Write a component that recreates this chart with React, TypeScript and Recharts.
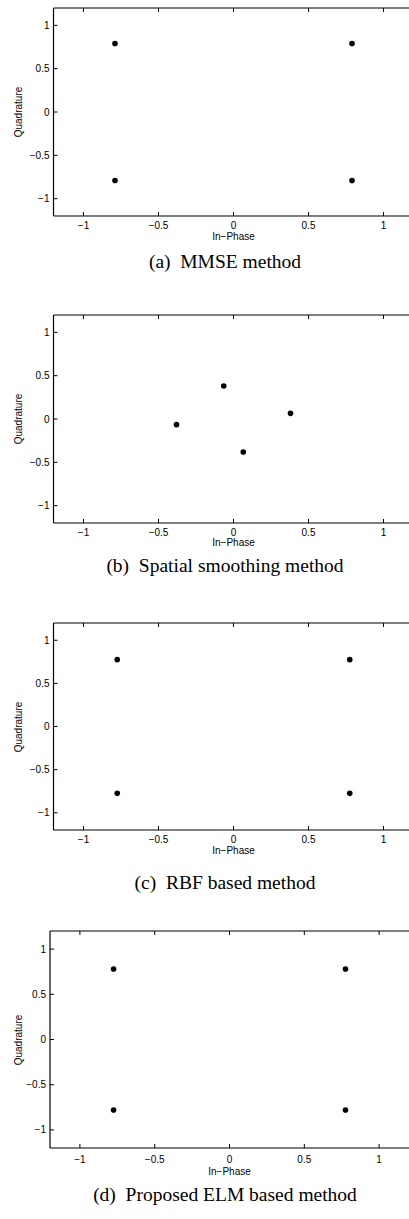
import { ScatterChart, Scatter, XAxis, YAxis } from "recharts";

// tick values shared by every panel
const axisTicks = [-1, -0.5, 0, 0.5, 1];
const yDomain = [-1.2, 1.2];

// (a) MMSE
const mmseI = [-0.79, 0.79, -0.79, 0.79];
const mmseQ = [0.79, 0.79, -0.79, -0.79];
// (b) spatial smoothing
const spatialI = [-0.38, -0.065, 0.065, 0.38];
const spatialQ = [-0.065, 0.38, -0.38, 0.065];
// (c) RBF
const rbfI = [-0.775, 0.775, -0.775, 0.775];
const rbfQ = [0.775, 0.775, -0.775, -0.775];
// (d) ELM
const elmI = [-0.775, 0.775, -0.775, 0.775];
const elmQ = [0.78, 0.78, -0.78, -0.78];

const captions = [
  "(a)  MMSE method",
  "(b)  Spatial smoothing method",
  "(c)  RBF based method",
  "(d)  Proposed ELM based method",
];

const xLabel = "In\u2212Phase";
const yLabel = "Quadrature";

const SANS = "'Liberation Sans', Arial, Helvetica, sans-serif";
const PAGE_W = 409;

const fmt = (v: number) => (v < 0 ? "\u2212" + Math.abs(v) : String(v));

interface PanelProps {
  xs: number[];
  ys: number[];
  top: number;
  left: number;
  unit: number; // px per unit on x (the figure is cropped at the page edge)
  ph: number;
  caption: string;
  captionY: number;
  tickGap: number;
  labelGap: number;
  rightTicks: boolean;
}

function Panel({ xs, ys, top, left, unit, ph, caption, captionY, tickGap, labelGap, rightTicks }: PanelProps) {
  const data = xs.map((x, i) => ({ x, y: ys[i] }));
  const pad = 5;
  const bottomH = 45;
  const pw = PAGE_W - left;
  // visible part of the [-1.2, 1.2] box
  const xDomain = [-1.2, Math.min(1.2, -1.2 + pw / unit)];
  const h = pad + ph + bottomH;
  const zeroX = left + 1.2 * unit;

  return (
    <>
      <div style={{ position: "absolute", left: 0, top: top - pad, width: PAGE_W, height: h }}>
        <ScatterChart width={PAGE_W} height={h} margin={{ top: 0, right: 0, bottom: 0, left: 0 }}>
          <XAxis
            xAxisId="b"
            type="number"
            dataKey="x"
            domain={xDomain}
            allowDataOverflow
            ticks={axisTicks}
            height={bottomH}
            tickSize={-4}
            tickMargin={tickGap + 4}
            tickFormatter={fmt}
            tick={{ fill: "#000", fontSize: 10, fontFamily: SANS }}
            axisLine={{ stroke: "#000", strokeWidth: 1.2 }}
            tickLine={{ stroke: "#000" }}
          />
          <XAxis
            xAxisId="t"
            type="number"
            dataKey="x"
            domain={xDomain}
            allowDataOverflow
            ticks={axisTicks}
            orientation="top"
            height={pad}
            tickSize={-4}
            tickFormatter={() => ""}
            axisLine={{ stroke: "#000" }}
            tickLine={{ stroke: "#000" }}
          />
          <YAxis
            yAxisId="l"
            type="number"
            dataKey="y"
            domain={yDomain}
            ticks={axisTicks}
            width={left}
            tickSize={-4}
            tickMargin={8}
            tickFormatter={fmt}
            tick={{ fill: "#000", fontSize: 10, fontFamily: SANS }}
            axisLine={{ stroke: "#000", strokeWidth: 1.2 }}
            tickLine={{ stroke: "#000" }}
          />
          <YAxis
            yAxisId="r"
            type="number"
            dataKey="y"
            domain={yDomain}
            ticks={axisTicks}
            orientation="right"
            width={0}
            tickSize={-4}
            tickFormatter={() => ""}
            axisLine={false}
            tickLine={rightTicks ? { stroke: "#000" } : false}
          />
          <Scatter
            data={data}
            xAxisId="b"
            yAxisId="l"
            isAnimationActive={false}
            shape={(p: any) => <circle cx={p.cx} cy={p.cy} r={2.8} fill="#000" />}
          />
        </ScatterChart>
      </div>
      {/* axis titles */}
      <div
        style={{
          position: "absolute",
          left: zeroX - 60,
          width: 120,
          top: top + ph + labelGap - 7,
          height: 14,
          lineHeight: "14px",
          textAlign: "center",
          fontFamily: SANS,
          fontSize: 10,
          color: "#000",
        }}
      >
        {xLabel}
      </div>
      <div
        style={{
          position: "absolute",
          left: 19 - 50,
          top: top + ph / 2 - 7,
          width: 100,
          height: 14,
          lineHeight: "14px",
          textAlign: "center",
          fontFamily: SANS,
          fontSize: 10,
          color: "#000",
          transform: "rotate(-90deg)",
        }}
      >
        {yLabel}
      </div>
      <div
        style={{
          position: "absolute",
          left: 0,
          width: 450,
          top: captionY - 12,
          height: 24,
          lineHeight: "24px",
          textAlign: "center",
          fontFamily: "'Liberation Serif', 'Times New Roman', serif",
          fontSize: 19.5,
          whiteSpace: "pre",
          color: "#000",
        }}
      >
        {caption}
      </div>
    </>
  );
}

export default function App() {
  return (
    <div
      style={{
        position: "absolute",
        left: 0,
        top: 0,
        width: PAGE_W,
        height: 1219,
        overflow: "hidden",
        background: "#fff",
      }}
    >
      <Panel xs={mmseI} ys={mmseQ} top={8} left={53.5} unit={150} ph={208}
        caption={captions[0]} captionY={262} tickGap={5.5} labelGap={20.5} rightTicks={false} />
      <Panel xs={spatialI} ys={spatialQ} top={314.5} left={53.5} unit={150} ph={208}
        caption={captions[1]} captionY={566} tickGap={5.5} labelGap={20.5} rightTicks={false} />
      <Panel xs={rbfI} ys={rbfQ} top={623} left={53.5} unit={150} ph={207}
        caption={captions[2]} captionY={883} tickGap={5.5} labelGap={20.5} rightTicks={false} />
      <Panel xs={elmI} ys={elmQ} top={931} left={50} unit={149.6} ph={217}
        caption={captions[3]} captionY={1195} tickGap={7.5} labelGap={24} rightTicks={true} />
    </div>
  );
}
